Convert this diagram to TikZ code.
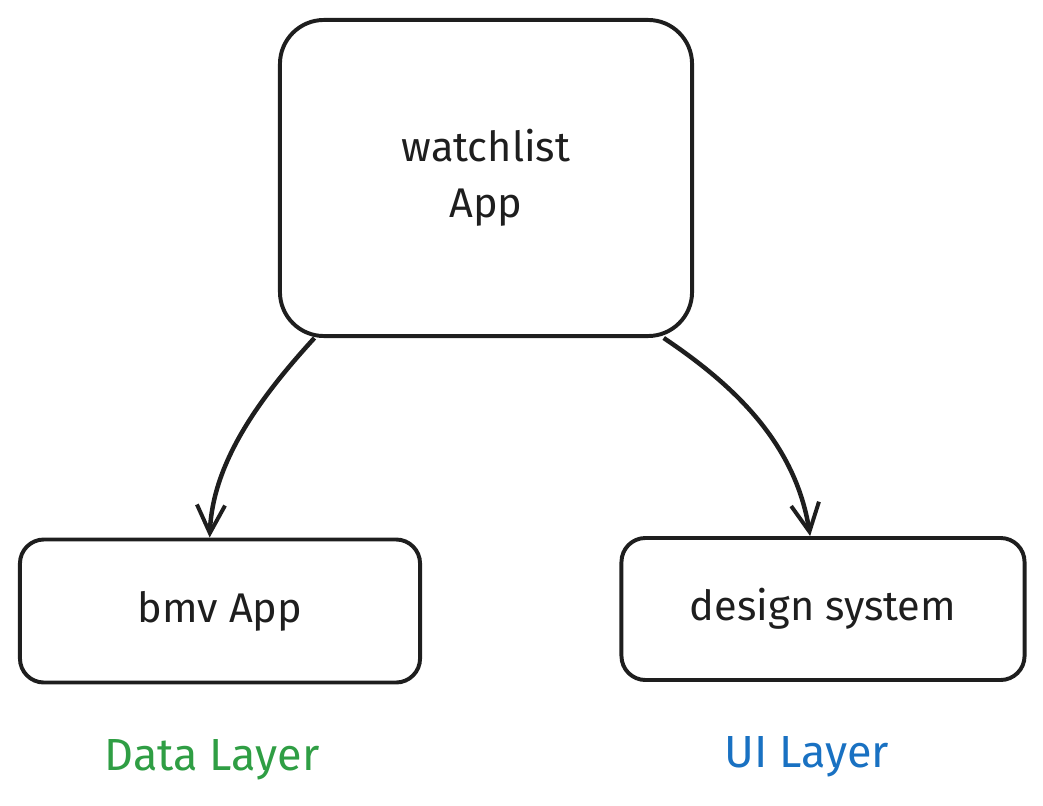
\documentclass[tikz,border=0pt]{standalone}
\usepackage{fontspec}
\setmainfont{Fira Sans}
\usepackage{xcolor}
\usepackage{tikz}
\usetikzlibrary{arrows.meta,positioning,calc}

\definecolor{inkblack}{HTML}{1E1E1E}
\definecolor{datagreen}{HTML}{2F9E44}
\definecolor{uiblue}{HTML}{1971C2}

\begin{document}
\begin{tikzpicture}[x=0.025cm, y=-0.025cm,
    box/.style={draw=inkblack, line width=2.8pt, align=center, text=inkblack, font=\fontsize{29.5}{40}\selectfont},
    layer/.style={font=\fontsize{32}{36}\selectfont},
    link/.style={-{Straight Barb[length=20pt, width=20pt, line width=2.8pt]}, line width=3.2pt, draw=inkblack}
]
    \useasboundingbox (0,0) rectangle (1043,806);

    % Modules
    \node[box, rounded corners=1.1cm, minimum width=10.3cm, minimum height=7.9cm] (watch) at (486,178) {watchlist \\ App};
    \node[box, rounded corners=0.6cm, minimum width=10cm, minimum height=3.575cm] (bmv) at (220,611) {bmv App};
    \node[box, rounded corners=0.6cm, minimum width=10.075cm, minimum height=3.55cm] (design) at (823,609) {design system};

    % Dependencies
    \draw[link] (watch.223) .. controls +(-55,60) and +(3,-75) .. (bmv.98);
    \draw[link] (watch.318) .. controls +(67,45) and +(-15,-95) .. (design.100);

    % Layer labels
    \node[layer, text=datagreen] (data) at (212,760) {Data Layer};
    \node[layer, text=uiblue] (ui) at (807,757) {UI Layer};
\end{tikzpicture}
\end{document}
